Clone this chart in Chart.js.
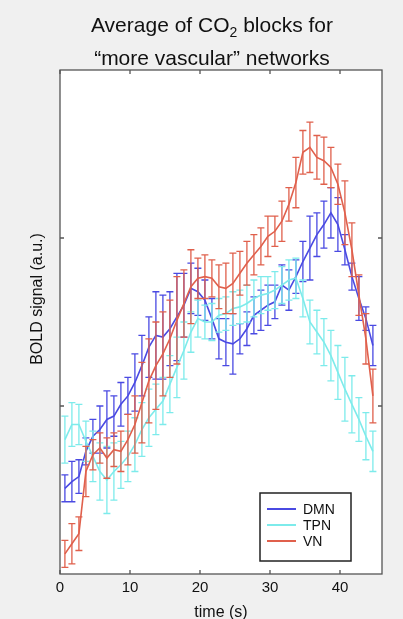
<!DOCTYPE html>
<html>
<head>
<meta charset="utf-8">
<script src="https://cdn.jsdelivr.net/npm/chart.js@4.4.1/dist/chart.umd.min.js"></script>
<style>
  html, body { margin: 0; padding: 0; background: #f0f0f0; }
  canvas { display: block; }
</style>
</head>
<body>
<canvas id="chart" width="403" height="619" style="width:403px;height:619px"></canvas>
<script>
// time points (s)
const times = [0.7, 1.7, 2.7, 3.7, 4.7, 5.7, 6.7, 7.7, 8.7, 9.7,
  10.7, 11.7, 12.7, 13.7, 14.7, 15.7, 16.7, 17.7, 18.7, 19.7,
  20.7, 21.7, 22.7, 23.7, 24.7, 25.7, 26.7, 27.7, 28.7, 29.7,
  30.7, 31.7, 32.7, 33.7, 34.7, 35.7, 36.7, 37.7, 38.7, 39.7,
  40.7, 41.7, 42.7, 43.7, 44.7];

// mean BOLD signal (a.u.) per network
const dmn = [-0.49, -0.45, -0.42, -0.27, -0.18, -0.14, -0.08, -0.06, 0.01, 0.06,
  0.14, 0.24, 0.35, 0.42, 0.41, 0.46, 0.53, 0.60, 0.70, 0.68,
  0.63, 0.52, 0.40, 0.38, 0.37, 0.40, 0.46, 0.54, 0.57, 0.60,
  0.62, 0.72, 0.69, 0.77, 0.86, 0.94, 1.02, 1.08, 1.15, 1.08,
  0.93, 0.77, 0.64, 0.52, 0.36];
const tpn = [-0.20, -0.11, -0.11, -0.21, -0.30, -0.39, -0.44, -0.39, -0.35, -0.30,
  -0.23, -0.14, -0.07, -0.02, 0.03, 0.13, 0.23, 0.33, 0.44, 0.52,
  0.50, 0.50, 0.54, 0.55, 0.58, 0.59, 0.61, 0.64, 0.66, 0.67,
  0.69, 0.72, 0.75, 0.76, 0.64, 0.50, 0.44, 0.38, 0.30, 0.20,
  0.10, 0.01, -0.08, -0.18, -0.27];
const vn = [-0.88, -0.82, -0.76, -0.39, -0.29, -0.25, -0.31, -0.26, -0.27, -0.20,
  -0.11, 0.02, 0.15, 0.24, 0.31, 0.40, 0.51, 0.61, 0.71, 0.76,
  0.77, 0.76, 0.71, 0.70, 0.73, 0.79, 0.85, 0.90, 0.95, 1.01,
  1.04, 1.10, 1.20, 1.33, 1.51, 1.54, 1.48, 1.46, 1.42, 1.32,
  1.15, 0.93, 0.66, 0.40, 0.06];

// error bar half-lengths
const dmnErr = [0.08, 0.12, 0.10, 0.08, 0.10, 0.14, 0.17, 0.12, 0.13, 0.11,
  0.17, 0.18, 0.18, 0.26, 0.25, 0.22, 0.26, 0.19, 0.15, 0.14,
  0.12, 0.12, 0.12, 0.14, 0.18, 0.09, 0.10, 0.11, 0.12, 0.12,
  0.10, 0.12, 0.12, 0.10, 0.12, 0.19, 0.13, 0.14, 0.15, 0.16,
  0.09, 0.08, 0.13, 0.07, 0.12];
const tpnErr = [0.14, 0.13, 0.12, 0.12, 0.15, 0.17, 0.20, 0.17, 0.14, 0.15,
  0.16, 0.16, 0.17, 0.15, 0.14, 0.17, 0.18, 0.17, 0.12, 0.11,
  0.10, 0.11, 0.10, 0.10, 0.10, 0.10, 0.11, 0.11, 0.11, 0.10,
  0.11, 0.11, 0.12, 0.12, 0.11, 0.13, 0.13, 0.14, 0.15, 0.16,
  0.19, 0.17, 0.13, 0.14, 0.12];
const vnErr = [0.08, 0.12, 0.10, 0.15, 0.09, 0.09, 0.12, 0.10, 0.12, 0.15,
  0.17, 0.24, 0.25, 0.26, 0.25, 0.23, 0.26, 0.20, 0.22, 0.12,
  0.13, 0.11, 0.13, 0.15, 0.18, 0.13, 0.13, 0.12, 0.11, 0.12,
  0.09, 0.12, 0.10, 0.15, 0.13, 0.15, 0.13, 0.14, 0.12, 0.12,
  0.19, 0.16, 0.12, 0.15, 0.16];

const xTicks = [0, 10, 20, 30, 40];
const yTicks = [0, 1];

const FONT = '"Liberation Sans", Arial, Helvetica, sans-serif';

function series(values) {
  return values.map((v, i) => ({ x: times[i], y: v }));
}

// error bars, drawn right after each line so stacking order matches
const errorBars = {
  id: 'errorBars',
  afterDatasetDraw(chart, args) {
    const ds = chart.data.datasets[args.index];
    const { ctx, chartArea: a } = chart;
    const y = chart.scales.y;
    ctx.save();
    ctx.beginPath();
    ctx.rect(a.left, a.top, a.right - a.left, a.bottom - a.top);
    ctx.clip();
    ctx.strokeStyle = ds.borderColor;
    ctx.lineWidth = 1.3;
    ctx.beginPath();
    args.meta.data.forEach((pt, i) => {
      const v = ds.data[i].y, e = ds.errors[i];
      const top = y.getPixelForValue(v + e);
      const bot = y.getPixelForValue(v - e);
      ctx.moveTo(pt.x, top); ctx.lineTo(pt.x, bot);
      ctx.moveTo(pt.x - 3.5, top); ctx.lineTo(pt.x + 3.5, top);
      ctx.moveTo(pt.x - 3.5, bot); ctx.lineTo(pt.x + 3.5, bot);
    });
    ctx.stroke();
    ctx.restore();
  }
};

// white plot area, box, inward ticks, titles, legend
const decor = {
  id: 'decor',
  beforeDraw(chart) {
    const { ctx, chartArea: a } = chart;
    ctx.save();
    ctx.fillStyle = '#f0f0f0';
    ctx.fillRect(0, 0, chart.width, chart.height);
    ctx.fillStyle = '#ffffff';
    ctx.fillRect(a.left, a.top, a.right - a.left, a.bottom - a.top);
    ctx.restore();
  },
  afterDraw(chart) {
    const { ctx, chartArea: a, scales: { x, y } } = chart;
    ctx.save();

    // box and ticks
    ctx.strokeStyle = '#555555';
    ctx.lineWidth = 1.3;
    ctx.strokeRect(a.left, a.top, a.right - a.left, a.bottom - a.top);
    ctx.beginPath();
    xTicks.forEach(v => {
      const px = x.getPixelForValue(v);
      ctx.moveTo(px, a.bottom); ctx.lineTo(px, a.bottom - 4);
      ctx.moveTo(px, a.top); ctx.lineTo(px, a.top + 4);
    });
    yTicks.forEach(v => {
      const py = y.getPixelForValue(v);
      ctx.moveTo(a.left, py); ctx.lineTo(a.left + 4, py);
      ctx.moveTo(a.right, py); ctx.lineTo(a.right - 4, py);
    });
    ctx.stroke();

    // title with subscript
    ctx.fillStyle = '#111111';
    ctx.textBaseline = 'alphabetic';
    const big = '21px ' + FONT, small = '14px ' + FONT;
    const p1 = 'Average of CO', p2 = '2', p3 = ' blocks for';
    ctx.font = big;
    const w1 = ctx.measureText(p1).width, w3 = ctx.measureText(p3).width;
    ctx.font = small;
    const w2 = ctx.measureText(p2).width;
    const cx = 212;
    let left = cx - (w1 + w2 + w3) / 2;
    ctx.textAlign = 'left';
    ctx.font = big; ctx.fillText(p1, left, 32);
    ctx.font = small; ctx.fillText(p2, left + w1, 37);
    ctx.font = big; ctx.fillText(p3, left + w1 + w2, 32);
    ctx.textAlign = 'center';
    ctx.fillText('\u201cmore vascular\u201d networks', cx, 65);

    // axis titles
    ctx.font = '16px ' + FONT;
    ctx.fillText('time (s)', (a.left + a.right) / 2, 617);
    ctx.save();
    ctx.translate(38, 299);
    ctx.rotate(-Math.PI / 2);
    ctx.textBaseline = 'middle';
    ctx.font = '16px ' + FONT;
    ctx.fillText('BOLD signal (a.u.)', 0, 0);
    ctx.restore();

    // legend box
    const bx = a.right - 122, by = a.bottom - 81, bw = 91, bh = 68;
    ctx.fillStyle = '#ffffff';
    ctx.fillRect(bx, by, bw, bh);
    ctx.strokeStyle = '#222222';
    ctx.lineWidth = 1.5;
    ctx.strokeRect(bx, by, bw, bh);
    ctx.font = '14px ' + FONT;
    ctx.textAlign = 'left';
    ctx.textBaseline = 'middle';
    chart.data.datasets.forEach((ds, i) => {
      const ry = by + 16 + i * 16;
      ctx.strokeStyle = ds.borderColor;
      ctx.lineWidth = 2;
      ctx.beginPath();
      ctx.moveTo(bx + 7, ry); ctx.lineTo(bx + 36, ry);
      ctx.stroke();
      ctx.fillStyle = '#111111';
      ctx.fillText(ds.label, bx + 43, ry + 1);
    });
    ctx.restore();
  }
};

const ctx = document.getElementById('chart').getContext('2d');
new Chart(ctx, {
  type: 'line',
  data: {
    datasets: [
      { label: 'DMN', data: series(dmn), errors: dmnErr, borderColor: '#4a4ae2', order: 3 },
      { label: 'TPN', data: series(tpn), errors: tpnErr, borderColor: '#7debeb', order: 2 },
      { label: 'VN', data: series(vn), errors: vnErr, borderColor: '#e0604c', order: 1 }
    ]
  },
  options: {
    responsive: false,
    animation: false,
    devicePixelRatio: 1,
    layout: { padding: { top: 70, right: 21, left: 0, bottom: 0 } },
    elements: {
      line: { borderWidth: 1.6, tension: 0 },
      point: { radius: 0 }
    },
    plugins: {
      legend: { display: false },
      title: { display: false },
      tooltip: { enabled: false }
    },
    scales: {
      x: {
        type: 'linear',
        min: 0,
        max: 46,
        grid: { display: false },
        border: { display: false },
        afterBuildTicks: s => { s.ticks = xTicks.map(v => ({ value: v })); },
        afterFit: s => { s.height = 45; },
        ticks: {
          padding: -3,
          color: '#111111',
          font: { family: FONT, size: 15 },
          callback: v => String(v)
        }
      },
      y: {
        type: 'linear',
        min: -1,
        max: 2,
        grid: { display: false },
        border: { display: false },
        ticks: { display: false },
        afterFit: s => { s.width = 60; }
      }
    }
  },
  plugins: [errorBars, decor]
});
</script>
</body>
</html>
